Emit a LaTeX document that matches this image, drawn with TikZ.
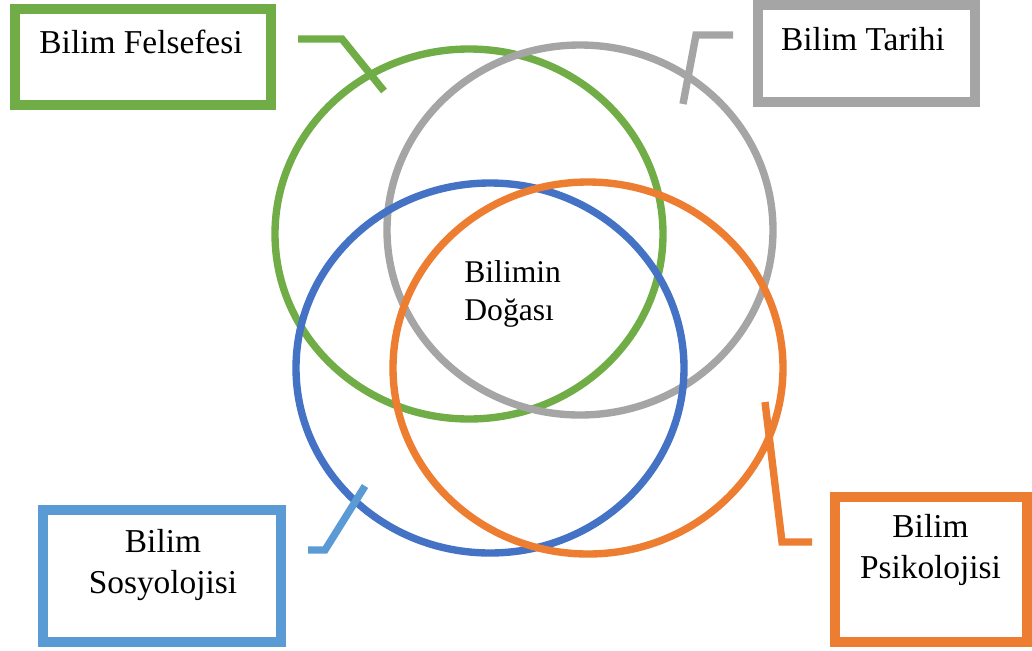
\documentclass[tikz,border=0pt]{standalone}
\usepackage{fontspec}
\setmainfont{Liberation Serif}
\definecolor{felgreen}{HTML}{70AD47}
\definecolor{targray}{HTML}{A5A5A5}
\definecolor{sosblue}{HTML}{4472C4}
\definecolor{soslight}{HTML}{5B9BD5}
\definecolor{psiorange}{HTML}{ED7D31}
\tikzset{
  ring/.style={line width=4.2pt},
  tag/.style={draw, line width=5.7pt, inner sep=0pt},
  lead/.style={line width=4.2pt},
  word/.style={font=\fontsize{19}{23}\selectfont, align=center, anchor=base, inner sep=0pt}
}
\begin{document}
\begin{tikzpicture}[x=0.02cm,y=-0.02cm]
\useasboundingbox (0,0) rectangle (1032,650);
% rings
\draw[ring, felgreen] (469,234) ellipse [x radius=194, y radius=185];
\draw[ring, targray] (580,230) ellipse [x radius=193, y radius=185];
\draw[ring, sosblue] (490,368) ellipse [x radius=194, y radius=185];
\draw[ring, psiorange] (588,368) ellipse [x radius=195, y radius=186];
\node[word, anchor=base west, align=left, font=\fontsize{18}{21.5}\selectfont] (doga) at (464,320) {Bilimin\\Doğası};
% boxes
\node[tag, draw=felgreen, minimum width=5.12cm, minimum height=1.92cm] (fel) at (143,57) {};
\node[word] (feltxt) at (141,53) {Bilim Felsefesi};
\node[tag, draw=targray, minimum width=4.34cm, minimum height=1.94cm] (tar) at (866.5,53.5) {};
\node[word] (tartxt) at (863,50) {Bilim Tarihi};
\node[tag, draw=soslight, minimum width=4.76cm, minimum height=2.63cm] (sos) at (162,576) {};
\node[word] (sostxt) at (163,593) {Bilim\\Sosyolojisi};
\node[tag, draw=psiorange, minimum width=3.85cm, minimum height=2.9cm] (psi) at (931,569.5) {};
\node[word] (psitxt) at (930.5,578) {Bilim\\Psikolojisi};
% leads
\coordinate (fel1) at (298,39);
\coordinate (fel2) at (342,39);
\coordinate (fel3) at (384,91);
\draw[lead, felgreen] (fel1) -- (fel2) -- (fel3);
\coordinate (tar1) at (733,35);
\coordinate (tar2) at (696,35);
\coordinate (tar3) at (683,104);
\draw[lead, targray] (tar1) -- (tar2) -- (tar3);
\coordinate (sos1) at (308,550);
\coordinate (sos2) at (325,550);
\coordinate (sos3) at (365,486);
\draw[lead, soslight] (sos1) -- (sos2) -- (sos3);
\coordinate (psi1) at (765,402);
\coordinate (psi2) at (782,542);
\coordinate (psi3) at (812,542);
\draw[lead, psiorange] (psi1) -- (psi2) -- (psi3);
\end{tikzpicture}
\end{document}
